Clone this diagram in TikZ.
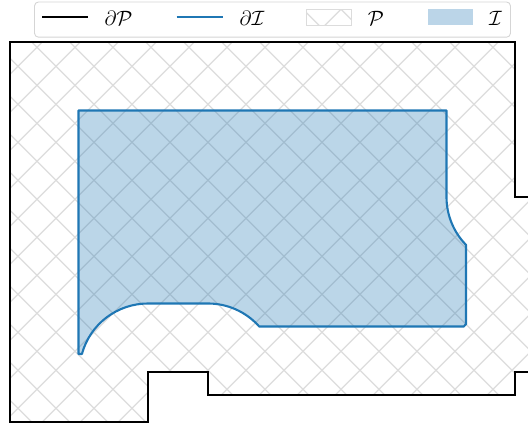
\documentclass[tikz,border=0pt]{standalone}
\usepackage{amsmath}
\begin{document}
\begin{tikzpicture}[x=1pt,y=1pt]
\definecolor{tabblue}{HTML}{1F77B4}
\definecolor{hatchgray}{HTML}{DCDCDC}
\definecolor{legframe}{HTML}{D5D5D5}
\tikzset{
  hatchline/.style={draw=hatchgray, line width=1.2pt},
  pbound/.style={draw=black, line width=2.1pt, line join=miter},
  ibound/.style={draw=tabblue, line width=2.1pt, line join=round},
  ifill/.style={fill=tabblue, fill opacity=0.3},
  legtext/.style={font=\fontsize{19.5}{23}\selectfont, anchor=base, inner sep=0pt},
}
\newcommand\hatchlines{%
  \foreach \k in {0,...,26} {\draw[hatchline] ({-0.3+38*\k},0) -- ({-0.3+38*\k-428},428);}%
  \foreach \k in {-12,...,14} {\draw[hatchline] ({-1.7+38*\k},0) -- ({-1.7+38*\k+428},428);}%
}
\useasboundingbox (0,0) rectangle (528,428);
% hatch of P
\begin{scope}
  \clip (10,386) -- (515,386) -- (515,231) -- (540,231) -- (540,56) -- (515,56) -- (515,33) -- (208,33) -- (208,56) -- (148,56) -- (148,6) -- (10,6) -- cycle;
  \hatchlines
\end{scope}
% I region
\path[ifill] (78.5,74) -- (78.5,317.5) -- (446.5,317.5) -- (446.5,231)
  arc[start angle=180,end angle=224.35,radius=68.5] -- (466,103.87)
  arc[start angle=135.67,end angle=138.38,radius=68.5] -- (259.2,101.5)
  arc[start angle=41.62,end angle=90,radius=68.5] -- (148,124.5)
  arc[start angle=90,end angle=164.76,radius=68.5] -- cycle;
\draw[ibound] (78.5,74) -- (78.5,317.5) -- (446.5,317.5) -- (446.5,231)
  arc[start angle=180,end angle=224.35,radius=68.5] -- (466,103.87)
  arc[start angle=135.67,end angle=138.38,radius=68.5] -- (259.2,101.5)
  arc[start angle=41.62,end angle=90,radius=68.5] -- (148,124.5)
  arc[start angle=90,end angle=164.76,radius=68.5] -- cycle;
% boundary of P
\draw[pbound] (540,231) -- (515,231) -- (515,386) -- (10,386) -- (10,6) -- (148,6) -- (148,56) -- (208,56) -- (208,33) -- (515,33) -- (515,56) -- (540,56);
% legend
\draw[legframe, line width=0.9pt, fill=white, rounded corners=4pt] (34.5,426) rectangle (510.5,390.8);
\coordinate (l1a) at (42,411.3);
\coordinate (l1b) at (88,411.3);
\draw[pbound] (l1a) -- (l1b);
\node[legtext] (tP) at (118.5,402) {$\partial\mathcal{P}$};
\coordinate (l2a) at (176.7,411.3);
\coordinate (l2b) at (222.7,411.3);
\draw[ibound] (l2a) -- (l2b);
\node[legtext] (tI) at (252,402) {$\partial\mathcal{I}$};
\begin{scope}
  \clip (306.7,402.7) rectangle (351.7,418.7);
  \hatchlines
\end{scope}
\draw[draw=hatchgray, line width=0.9pt] (306.7,402.7) rectangle (351.7,418.7);
\node[legtext] (tP2) at (376,402) {$\mathcal{P}$};
\fill[tabblue, opacity=0.3] (428.3,403) rectangle (472.7,418.7);
\node[legtext] (tI2) at (495.5,402) {$\mathcal{I}$};
\end{tikzpicture}
\end{document}
